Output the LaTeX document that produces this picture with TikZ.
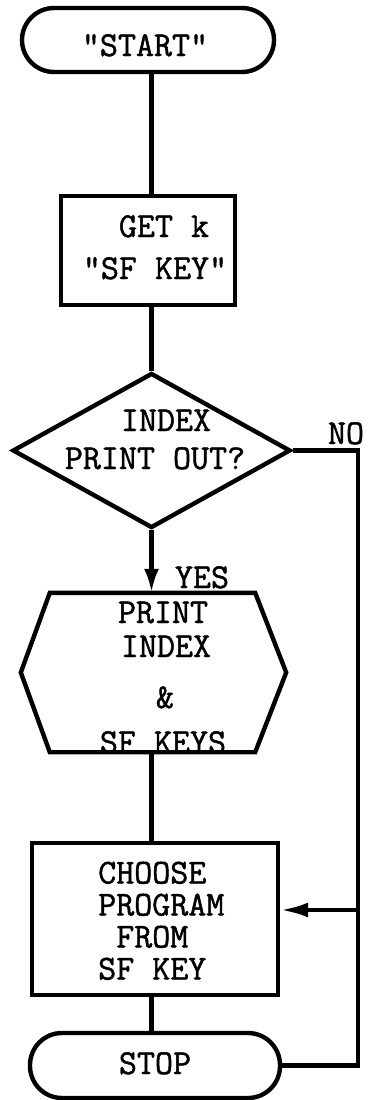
\documentclass[tikz,border=0pt]{standalone}
\usepackage{fontspec}
\newfontfamily\typew[FakeBold=1.3]{Latin Modern Mono}
\usetikzlibrary{shapes.geometric,arrows.meta}
\tikzset{
  ln/.style={line width=4.4pt, line join=miter},
  term/.style={ln, draw, rounded corners=32pt, inner sep=0pt},
  boxx/.style={ln, draw, inner sep=0pt},
  dia/.style={ln, draw, diamond, inner sep=0pt},
  tx/.style={font=\typew\fontsize{35}{32}\selectfont, inner sep=0pt, anchor=base},
  arr/.style={ln, -{Latex[length=24pt,width=15pt]}},
  arrl/.style={ln, -{Latex[length=28pt,width=15pt]}}
}
\begin{document}
\begin{tikzpicture}[x=1pt,y=-1pt]
\useasboundingbox (0,0) rectangle (367,1100);
% shapes
\node[term, minimum width=252pt, minimum height=64pt] (start) at (148,40) {};
\node[boxx, minimum width=174pt, minimum height=109pt] (get) at (148,250.5) {};
\node[dia, minimum width=278pt, minimum height=155pt] (d) at (151.5,450.5) {};
\node[inner sep=0pt, minimum width=205pt, minimum height=159pt] (prt) at (152.5,672.5) {};
\draw[ln] (prt.north west) -- (prt.north east) -- ([xshift=31pt]prt.east) -- (prt.south east)
  -- (prt.south west) -- ([xshift=-29pt]prt.west) -- cycle;
\node[boxx, minimum width=246pt, minimum height=152pt] (choose) at (155,919) {};
\node[term, minimum width=250pt, minimum height=65pt] (stop) at (155,1065.5) {};
% texts
\node[tx] (tstart) at (145,56) {"START"};
\node[tx] (tget1) at (164,237) {GET k};
\node[tx] (tget2) at (155,279) {"SF KEY"};
\node[tx] (td1) at (166,431) {INDEX};
\node[tx] (td2) at (155,469) {PRINT OUT?};
\node[tx] (tno) at (346,444) {NO};
\node[tx] (tyes) at (202,588) {YES};
\node[tx] (tp1) at (163,623) {PRINT};
\node[tx] (tp2) at (166,657) {INDEX};
\node[tx] (tp3) at (165,708) {\&};
\node[tx] (tp4) at (163,753) {SF KEYS};
\node[tx, anchor=north west, align=left] (tc) at (98,861.5)
  {CHOOSE\\PROGRAM\\\hphantom{X}FROM\\SF KEY};
\node[tx] (tstop) at (155,1074) {STOP};
% connectors
\coordinate (sr) at (358,1065.5);
\coordinate (j) at (358,910);
\draw[ln] (start.south -| d.north) -- (get.north -| d.north);
\draw[ln] (get.south -| d.north) -- (d.north);
\draw[arr] (d.south) -- (prt.north -| d.south);
\draw[ln] (prt.south -| d.south) -- (choose.north -| d.south);
\draw[ln] (choose.south -| d.south) -- (stop.north -| d.south);
\draw[ln] (d.east) -| (sr) -- (stop.east);
\draw[arrl] (j) -- (choose.east |- j);
\end{tikzpicture}
\end{document}
